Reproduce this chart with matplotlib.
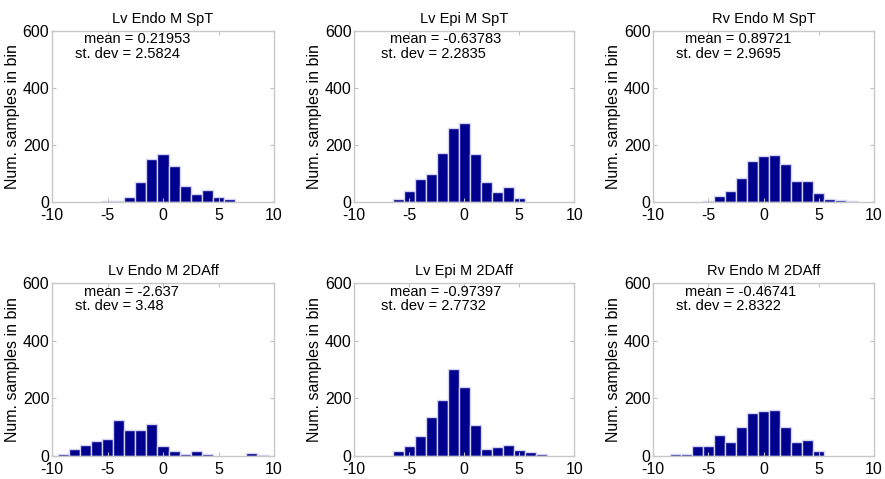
import numpy as np
import matplotlib
matplotlib.use('Agg')
import matplotlib.pyplot as plt

plt.rcParams['font.family'] = ['Liberation Sans', 'DejaVu Sans']
plt.rcParams['axes.unicode_minus'] = False

# bin centres (width 1) and counts
titles = ['Lv Endo M SpT', 'Lv Epi M SpT', 'Rv Endo M SpT',
          'Lv Endo M 2DAff', 'Lv Epi M 2DAff', 'Rv Endo M 2DAff']
means = ['0.21953', '-0.63783', '0.89721', '-2.637', '-0.97397', '-0.46741']
stdevs = ['2.5824', '2.2835', '2.9695', '3.48', '2.7732', '2.8322']

centers_1 = [-5, -4, -3, -2, -1, 0, 1, 2, 3, 4, 5, 6]
counts_1 = [3, 5, 19, 69, 152, 167, 127, 57, 28, 42, 19, 10]

centers_2 = [-6, -5, -4, -3, -2, -1, 0, 1, 2, 3, 4, 5]
counts_2 = [9, 39, 82, 98, 173, 260, 277, 170, 71, 34, 51, 13]

centers_3 = [-5, -4, -3, -2, -1, 0, 1, 2, 3, 4, 5, 6, 7, 8]
counts_3 = [5, 21, 39, 85, 145, 163, 166, 132, 74, 74, 33, 10, 6, 5]

centers_4 = [-9, -8, -7, -6, -5, -4, -3, -2, -1, 0, 1, 2, 3, 4, 8, 9]
counts_4 = [6, 26, 37, 51, 59, 124, 92, 90, 112, 34, 16, 8, 16, 8, 10, 5]

centers_5 = [-6, -5, -4, -3, -2, -1, 0, 1, 2, 3, 4, 5, 6, 7]
counts_5 = [17, 34, 71, 136, 193, 304, 241, 109, 23, 30, 37, 21, 14, 8]

centers_6 = [-8, -7, -6, -5, -4, -3, -2, -1, 0, 1, 2, 3, 4, 5]
counts_6 = [8, 7, 34, 36, 73, 48, 100, 148, 156, 160, 100, 48, 54, 19]

centers = [centers_1, centers_2, centers_3, centers_4, centers_5, centers_6]
counts = [counts_1, counts_2, counts_3, counts_4, counts_5, counts_6]

fig = plt.figure(figsize=(8.85, 4.79), dpi=100)

lefts = [0.0588, 0.4003, 0.7382]
widths = [0.2508, 0.2486, 0.2494]
bottoms = [0.5783, 0.048]
heights = [0.357, 0.3605]
text_x = [0.145, 0.162, 0.144]
st_x = [0.104, 0.121, 0.103]

for i in range(6):
    row, col = divmod(i, 3)
    ax = fig.add_axes([lefts[col], bottoms[row], widths[col], heights[row]])
    ax.bar(centers[i], counts[i], width=1.0, color='#00008f',
           edgecolor='#d4d4f2', linewidth=1.0)
    ax.set_xlim(-10, 10)
    ax.set_ylim(0, 600)
    ax.set_xticks([-10, -5, 0, 5, 10])
    ax.set_yticks([0, 200, 400, 600])
    ax.tick_params(direction='in', length=3, color='#c0c0c0', labelsize=11.5,
                   top=True, right=True, pad=2)
    ax.tick_params(axis='x', pad=4)
    for s in ax.spines.values():
        s.set_color('#c8c8c8')
        s.set_linewidth(1.0)
    ax.set_title(titles[i], fontsize=10.5, pad=6)
    ax.set_ylabel('Num. samples in bin', fontsize=11.5, labelpad=2)
    ax.text(text_x[col], 0.952, 'mean = ' + means[i], transform=ax.transAxes,
            fontsize=10.5, va='center', ha='left')
    ax.text(st_x[col], 0.868, 'st. dev = ' + stdevs[i], transform=ax.transAxes,
            fontsize=10.5, va='center', ha='left')

plt.savefig('out.png', dpi=100)
